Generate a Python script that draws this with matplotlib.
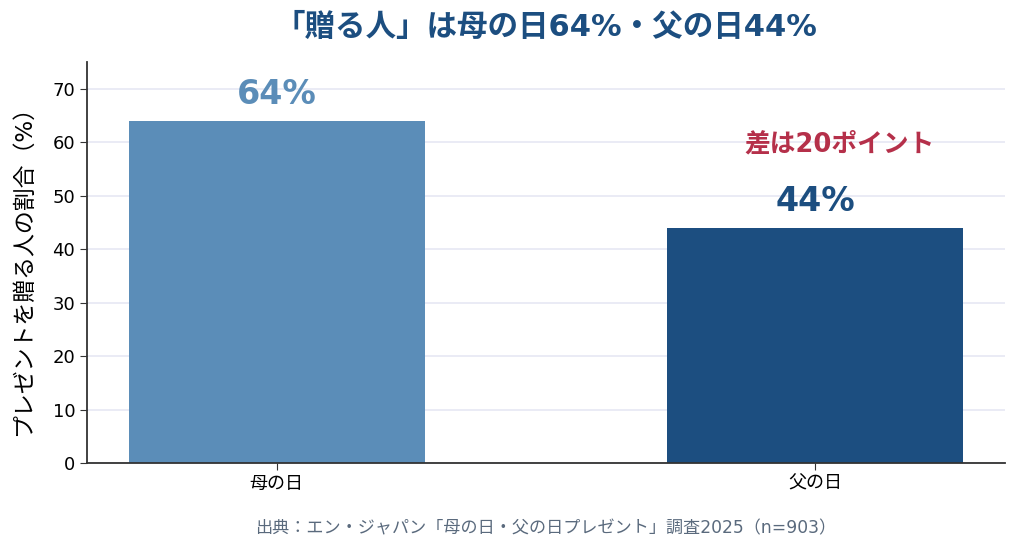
import matplotlib
matplotlib.use("Agg")
import matplotlib.pyplot as plt

plt.rcParams['font.family'] = ['DejaVu Sans', 'Noto Sans CJK JP']

categories = ['母の日', '父の日']
values = [64, 44]
bar_colors = ['#5b8db8', '#1c4e80']
value_labels = ['64%', '44%']
yticks = [0, 10, 20, 30, 40, 50, 60, 70]

title = '「贈る人」は母の日64%・父の日44%'
ylabel = 'プレゼントを贈る人の割合（%）'
note = '差は20ポイント'
source = '出典：エン・ジャパン「母の日・父の日プレゼント」調査2025（n=903）'

fig = plt.figure(figsize=(10.2, 5.54), dpi=100)
ax = fig.add_axes([0.0853, 0.1643, 0.8997, 0.7237])

x = range(len(categories))
ax.bar(x, values, width=0.55, color=bar_colors, zorder=2)

# percentage labels above bars
for i, v in enumerate(values):
    ax.text(i, v + 5, value_labels[i], ha='center', va='center',
            fontsize=24, fontweight='bold', color=bar_colors[i])

ax.text(1.046, 59.5, note, ha='center', va='center', fontsize=18.5,
        fontweight='bold', color='#b5304a')

ax.set_ylim(0, 75)
ax.set_yticks(yticks)
ax.set_xticks(list(x))
ax.set_xticklabels(categories)
ax.tick_params(axis='both', labelsize=13, color='#333333', length=5)
ax.grid(axis='y', color='#e6e8f4', linewidth=1.2, zorder=0)
ax.set_axisbelow(True)
for s in ['top', 'right']:
    ax.spines[s].set_visible(False)
for s in ['left', 'bottom']:
    ax.spines[s].set_color('#333333')
    ax.spines[s].set_linewidth(1.3)

ax.set_ylabel(ylabel, fontsize=16.5)
ax.yaxis.set_label_coords(-0.057, 0.495)
ax.set_title(title, fontsize=22, fontweight='bold', color='#1c4e80', pad=19)
fig.text(0.535, 0.047, source, ha='center', va='center', fontsize=12.3, color='#5a6a7d')

fig.savefig('out.png', dpi=100)
